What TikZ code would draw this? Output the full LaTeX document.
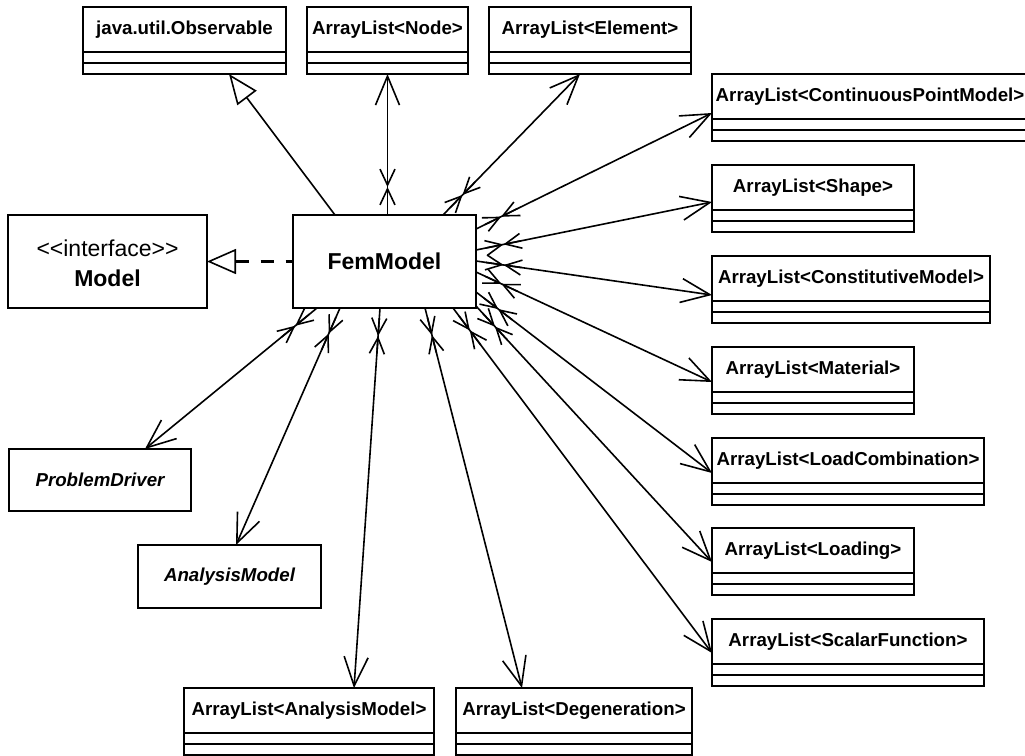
\documentclass[tikz,border=0pt]{standalone}
\usepackage{fontspec}
\setmainfont[Ligatures=TeXOff]{Liberation Sans}
\usetikzlibrary{arrows.meta,calc}
\newcommand\umlclass[5]{%
  \node[clsbox, minimum width=#4pt] (#1) at (#2,#3) {};
  \node[clstext] (#1-t) at ([yshift=-22.5pt]#1.north) {#5};
  \draw[boxline] ([yshift=-45pt]#1.north west) -- ([yshift=-45pt]#1.north east);
  \draw[boxline] ([yshift=-56pt]#1.north west) -- ([yshift=-56pt]#1.north east);
}
\newcommand\assoc[2]{%
  \draw[assocline, -bighead] (#1) -- (#2);
  \draw[assocline, -smallhead] ($(#1)!10pt!(#2)$) -- ($(#1)!28pt!(#2)$);
  \draw[assocline, -smallhead] ($(#1)!46pt!(#2)$) -- ($(#1)!28pt!(#2)$);
}
\begin{document}
\begin{tikzpicture}[x=1pt,y=-1pt,
  boxline/.style={line width=2pt},
  clsbox/.style={draw, line width=2pt, minimum height=67pt, inner sep=0pt, outer sep=0pt, anchor=north west},
  clstext/.style={inner sep=0pt, font=\bfseries\fontsize{18.7}{22}\selectfont},
  plainbox/.style={draw, line width=2pt, inner sep=0pt, outer sep=0pt, anchor=north west},
  smallhead/.tip={Straight Barb[length=16pt,width=15pt,line width=1.6pt]},
  bighead/.tip={Straight Barb[length=29pt,width=24pt,line width=1.6pt]},
  assocline/.style={line width=1.6pt},
  gen/.style={line width=1.6pt, -{Triangle[open, fill=white, length=30pt, width=24pt, line width=1.6pt]}},
  real/.style={line width=3pt, dash pattern=on 13pt off 12pt, {Triangle[open, fill=white, length=29pt, width=25pt, line width=1.6pt]}-}
]
\useasboundingbox (0,0) rectangle (1025,755);

% top classes
\umlclass{obs}{83}{7}{203}{java.util.Observable}
\umlclass{nd}{307}{7}{161}{ArrayList<Node>}
\umlclass{el}{489}{7}{202}{ArrayList<Element>}

% right classes
\umlclass{cpm}{712}{74}{316}{ArrayList<ContinuousPointModel>}
\umlclass{shp}{712}{165}{202}{ArrayList<Shape>}
\umlclass{con}{712}{256}{278}{ArrayList<ConstitutiveModel>}
\umlclass{mat}{712}{347}{202}{ArrayList<Material>}
\umlclass{lc}{712}{438}{272}{ArrayList<LoadCombination>}
\umlclass{ld}{712}{528}{202}{ArrayList<Loading>}
\umlclass{sf}{712}{619}{272}{ArrayList<ScalarFunction>}

% bottom classes
\umlclass{alam}{184}{688}{250}{ArrayList<AnalysisModel>}
\umlclass{deg}{456}{688}{236}{ArrayList<Degeneration>}

% plain boxes
\node[plainbox, minimum width=199pt, minimum height=93pt] (model) at (8,215) {};
\node[inner sep=0pt, font=\fontsize{23}{27}\selectfont] (model-s) at ([yshift=-33pt]model.north) {<<interface>>};
\node[inner sep=0pt, font=\bfseries\fontsize{23}{27}\selectfont] (model-t) at ([yshift=-63pt]model.north) {Model};

\node[plainbox, minimum width=183pt, minimum height=93pt] (fem) at (293,215) {};
\node[inner sep=0pt, font=\bfseries\fontsize{23}{27}\selectfont] (fem-t) at (fem.center) {FemModel};

\node[plainbox, minimum width=182pt, minimum height=62pt] (pd) at (9,449) {};
\node[inner sep=0pt, font=\bfseries\itshape\fontsize{18.7}{22}\selectfont] (pd-t) at (pd.center) {ProblemDriver};

\node[plainbox, minimum width=183pt, minimum height=63pt] (am) at (138,545) {};
\node[inner sep=0pt, font=\bfseries\itshape\fontsize{18.7}{22}\selectfont] (am-t) at (am.center) {AnalysisModel};

% generalization / realization
\draw[gen] ($(fem.north west)+(42,0)$) -- ($(obs.south west)+(146,0)$);
\draw[real] (model.east) -- (fem.west);

% association end points
\coordinate (s-nd) at (fem.north -| nd.south);
\coordinate (e-nd) at (nd.south);
\coordinate (s-el) at ($(fem.north west)+(150,0)$);
\coordinate (e-el) at ($(el.south west)+(91,0)$);
\coordinate (s-cpm) at ($(fem.north east)+(0,14)$);
\coordinate (e-cpm) at ($(cpm.north west)+(0,39)$);
\coordinate (s-shp) at ($(fem.north east)+(0,35)$);
\coordinate (e-shp) at ($(shp.north west)+(0,37)$);
\coordinate (s-con) at ($(fem.north east)+(0,46)$);
\coordinate (e-con) at ($(con.north west)+(0,39)$);
\coordinate (s-mat) at ($(fem.north east)+(0,57)$);
\coordinate (e-mat) at ($(mat.north west)+(0,35)$);
\coordinate (s-lc) at ($(fem.north east)+(0,77)$);
\coordinate (e-lc) at ($(lc.north west)+(0,35)$);
\coordinate (s-ld) at ($(fem.north east)+(0,91)$);
\coordinate (e-ld) at ($(ld.north west)+(0,34)$);
\coordinate (s-sf) at ($(fem.south west)+(160,0)$);
\coordinate (e-sf) at ($(sf.north west)+(0,34)$);
\coordinate (s-deg) at ($(fem.south west)+(132,0)$);
\coordinate (e-deg) at ($(deg.north west)+(66,0)$);
\coordinate (s-alam) at ($(fem.south west)+(87,0)$);
\coordinate (e-alam) at ($(alam.north west)+(170,0)$);
\coordinate (s-am) at ($(fem.south west)+(47,0)$);
\coordinate (e-am) at ($(am.north west)+(98,0)$);
\coordinate (s-pd) at ($(fem.south west)+(24,0)$);
\coordinate (e-pd) at ($(pd.north west)+(136,0)$);

% associations
\assoc{s-nd}{e-nd}
\assoc{s-el}{e-el}
\assoc{s-cpm}{e-cpm}
\assoc{s-shp}{e-shp}
\assoc{s-con}{e-con}
\assoc{s-mat}{e-mat}
\assoc{s-lc}{e-lc}
\assoc{s-ld}{e-ld}
\assoc{s-sf}{e-sf}
\assoc{s-deg}{e-deg}
\assoc{s-alam}{e-alam}
\assoc{s-am}{e-am}
\assoc{s-pd}{e-pd}
\end{tikzpicture}
\end{document}
